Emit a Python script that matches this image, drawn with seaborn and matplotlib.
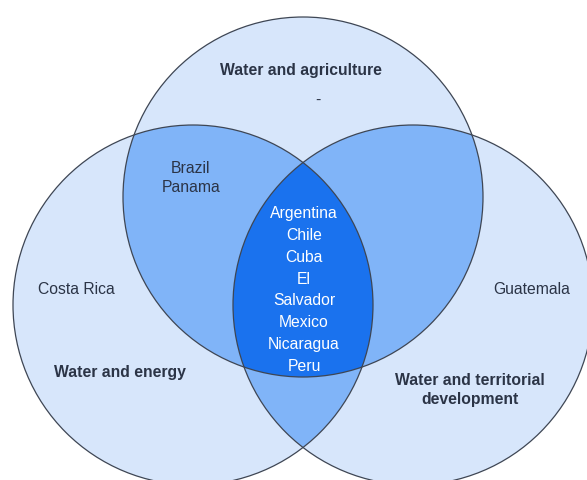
import numpy as np
import pandas as pd
import matplotlib.pyplot as plt
from matplotlib.colors import ListedColormap
from matplotlib.patches import Circle
import seaborn as sns

# Venn sets (pixel units of the 587x480 picture)
set_names = ["Water and agriculture", "Water and energy", "Water and territorial development"]
center_x = [303, 193, 413]
center_y = [197, 305, 305]
radius = [180, 180, 180]

# region labels
region_text = {
    "agri_only": "Water and agriculture",
    "agri_dash": "-",
    "energy_name": "Water and energy",
    "energy_only": "Costa Rica",
    "terr_name": "Water and territorial\ndevelopment",
    "terr_only": "Guatemala",
    "agri_energy": "Brazil\nPanama",
    "all_three": "Argentina\nChile\nCuba\nEl\nSalvador\nMexico\nNicaragua\nPeru",
}

fill_colors = ["#ffffff", "#d7e6fb", "#80b4f8", "#1a72ee"]

W, H = 587, 480

sns.set_theme(style="white")
plt.rcParams["font.family"] = ["Liberation Sans", "DejaVu Sans"]

# count how many sets cover each pixel
xx, yy = np.meshgrid(np.arange(W) + 0.5, np.arange(H) + 0.5)
count = np.zeros((H, W), dtype=int)
for cx, cy, r in zip(center_x, center_y, radius):
    count += ((xx - cx) ** 2 + (yy - cy) ** 2 <= r ** 2).astype(int)
grid = pd.DataFrame(count)

fig = plt.figure(figsize=(W / 100, H / 100), dpi=100)
ax = fig.add_axes([0, 0, 1, 1])
sns.heatmap(grid, ax=ax, cmap=ListedColormap(fill_colors), vmin=-0.5, vmax=3.5,
            cbar=False, xticklabels=False, yticklabels=False, rasterized=True)

for cx, cy, r in zip(center_x, center_y, radius):
    ax.add_patch(Circle((cx, cy), r, fill=False, edgecolor="#3e4654", linewidth=0.9))

ax.set_xlim(0, W)
ax.set_ylim(H, 0)
ax.set_axis_off()

dark = "#2b3446"
fs = 11.3
ax.text(301, 70, region_text["agri_only"], ha="center", va="center", fontsize=fs,
        fontweight="bold", color=dark)
ax.text(318, 100, region_text["agri_dash"], ha="center", va="center", fontsize=fs, color=dark)
ax.text(120, 372, region_text["energy_name"], ha="center", va="center", fontsize=fs,
        fontweight="bold", color=dark)
ax.text(76, 290, region_text["energy_only"], ha="center", va="center", fontsize=fs, color=dark)
ax.text(470, 390, region_text["terr_name"], ha="center", va="center", fontsize=fs,
        fontweight="bold", color=dark, linespacing=1.4)
ax.text(532, 290, region_text["terr_only"], ha="center", va="center", fontsize=fs, color=dark)
ax.text(191, 178, region_text["agri_energy"], ha="center", va="center", fontsize=fs,
        color=dark, linespacing=1.3)
ax.text(304, 290, region_text["all_three"], ha="center", va="center", fontsize=fs,
        color="white", linespacing=1.57)

fig.savefig("out.png", dpi=100)
